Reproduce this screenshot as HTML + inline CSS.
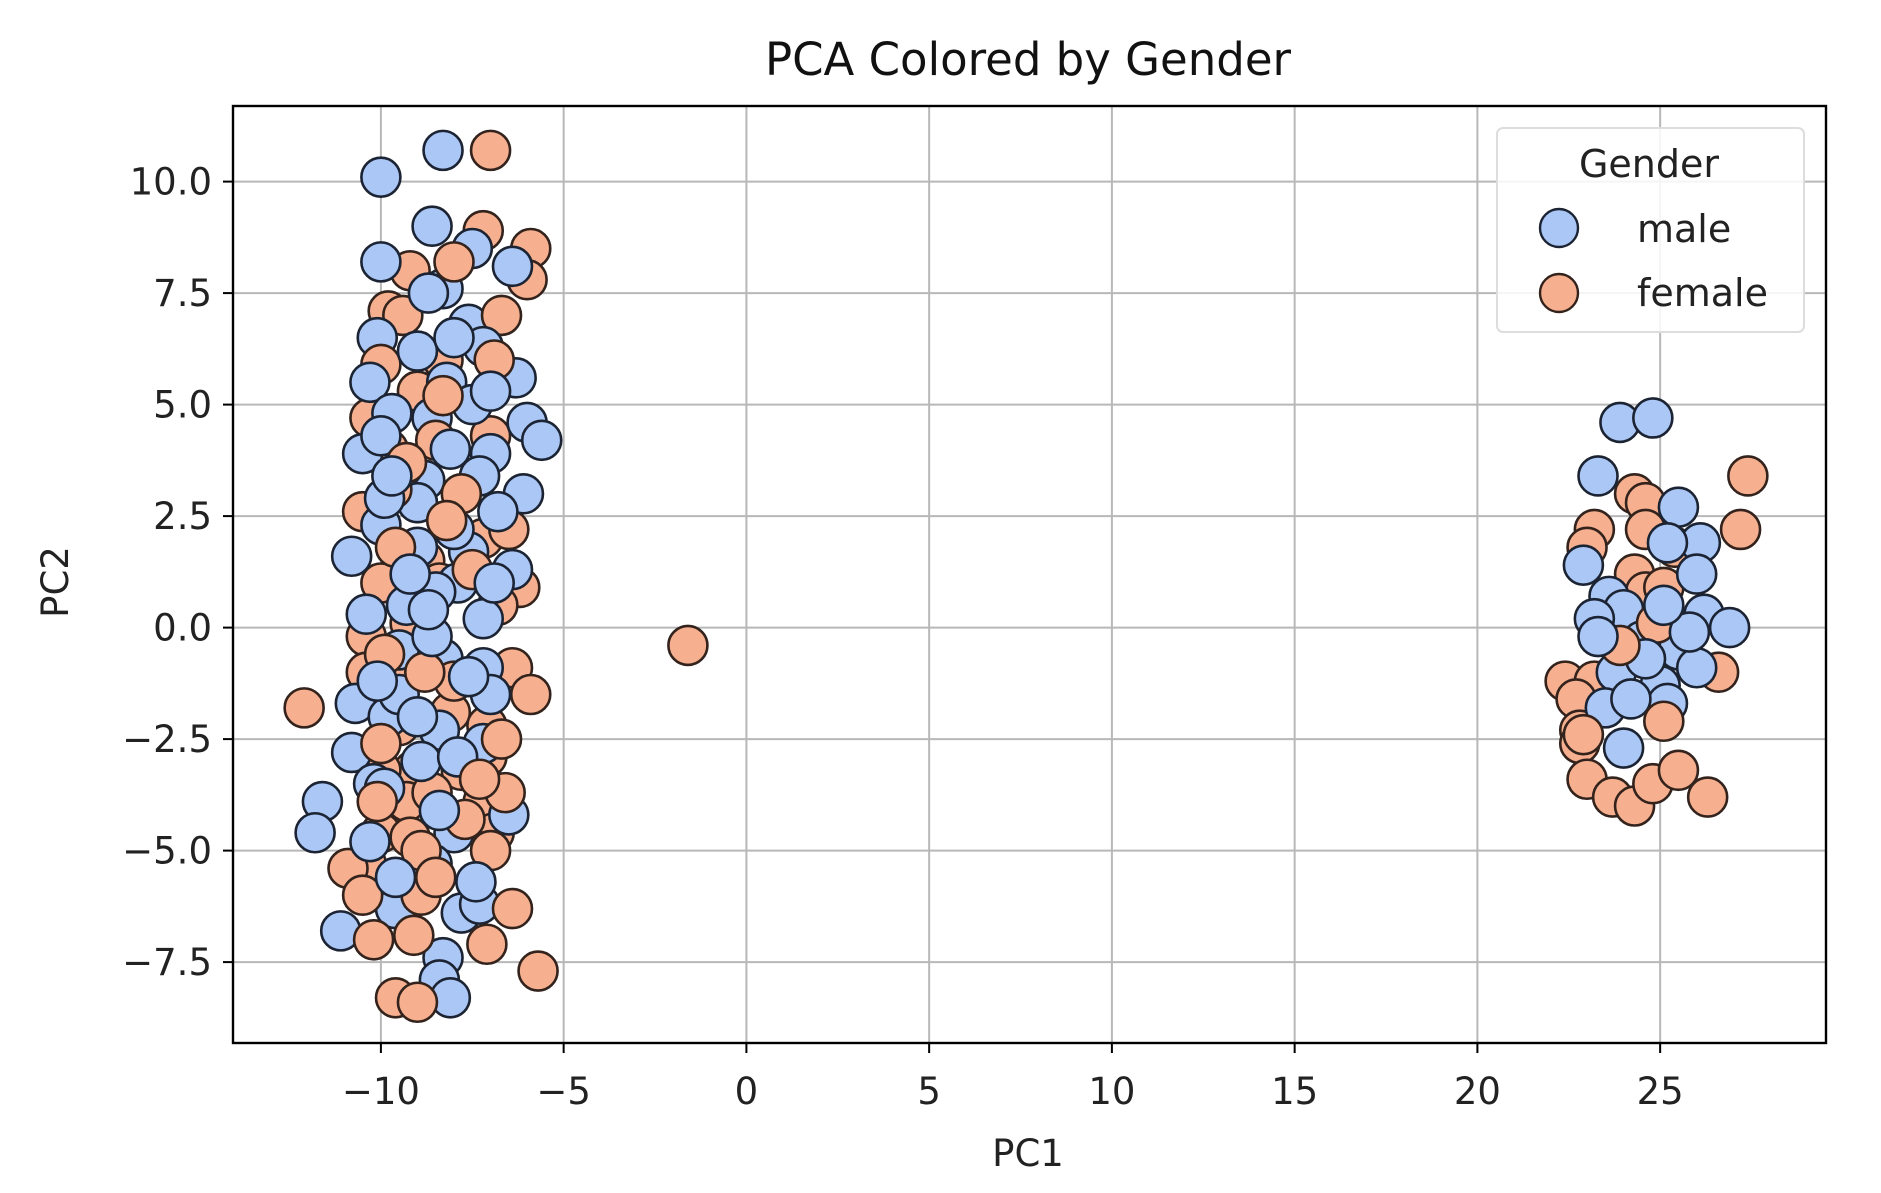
<!DOCTYPE html>
<html><head><meta charset="utf-8"><style>
html,body{margin:0;padding:0;background:#fff;}
svg{display:block;font-family:"DejaVu Sans","Liberation Sans",sans-serif;}
</style></head><body>
<svg id="chart" width="1881" height="1193" viewBox="0 0 1881 1193" xmlns="http://www.w3.org/2000/svg">
<rect width="1881" height="1193" fill="#fff"/>
<g id="grid"></g>
<g id="points"></g>
<rect x="233" y="106" width="1593" height="937" fill="none" stroke="#000" stroke-width="2.4"/>
<g id="ticks"></g>
<text x="1028" y="75" font-size="45" text-anchor="middle" fill="#111">PCA Colored by Gender</text>
<text x="1028" y="1166" font-size="37" text-anchor="middle" fill="#222">PC1</text>
<text transform="translate(68,582) rotate(-90)" font-size="37" text-anchor="middle" fill="#222">PC2</text>
<g>
<rect x="1497" y="128" width="307" height="204" rx="6" fill="#fff" fill-opacity="0.85" stroke="#ddd" stroke-width="2"/>
<text x="1649" y="177" font-size="38" text-anchor="middle" fill="#222">Gender</text>
<circle cx="1559" cy="228" r="19" fill="#aac7f6" stroke="#1c2433" stroke-width="2.4"/>
<text x="1637" y="242" font-size="38" fill="#222">male</text>
<circle cx="1559" cy="293" r="19" fill="#f6b08f" stroke="#33231c" stroke-width="2.4"/>
<text x="1637" y="306" font-size="38" fill="#222">female</text>
</g>
</svg>
<script>
const xTicks=[-10,-5,0,5,10,15,20,25];
const yTicks=[-7.5,-5,-2.5,0,2.5,5,7.5,10];
const maleX=[-8.3,-10,-8.6,-7.5,-10,-6.4,-8.3,-7.6,-10.1,-7.2,-6.3,-8.2,-10.3,-9.7,-8.6,-6.0,-5.6,-10.5,-7.0,-8.8,-7.3,-9.0,-6.1,-10,-9,-7.6,-10.8,-6.4,-7.9,-8.5,-10.4,-7.2,-9.5,-8.3,-7.2,-10.7,-9.8,-8.4,-7.2,-10.8,-10.2,-11.6,-11.8,-8.0,-6.5,-8.6,-9.6,-7.8,-7.3,-11.1,-8.3,-8.4,-8.1,-9.5,-8.9,-10.3,-9.9,-7.0,-9.3,-8.0,-10.0,-7.5,-9.0,-8.7,-6.8,-9.6,
-9.4,-8.1,-7.0,-9.9,-8.6,-7.6,-9.2,-7.9,-10.1,-8.4,-6.9,-9.7,-8.0,-7.4,-9.0,-8.7,
23.9,24.8,23.3,25.5,26.1,22.9,23.6,26.0,24.0,25.2,26.2,26.9,23.2,24.5,25.5,23.8,25.0,23.5,25.2,24.2,24.0,26.0,24.6,25.8,23.3,25.1];
const maleY=[10.7,10.1,9.0,8.5,8.2,8.1,7.6,6.8,6.5,6.3,5.6,5.5,5.5,4.8,4.7,4.6,4.2,3.9,3.9,3.3,3.4,2.8,3.0,2.3,1.8,1.7,1.6,1.3,1.0,0.8,0.3,0.2,-0.5,-0.7,-0.9,-1.7,-2.0,-2.3,-2.6,-2.8,-3.5,-3.9,-4.6,-4.6,-4.2,-5.3,-6.3,-6.4,-6.2,-6.8,-7.4,-7.9,-8.3,-1.5,-3.0,-4.8,-3.6,-1.5,0.5,2.2,4.3,5.0,6.2,7.5,2.6,-5.6,
3.6,4.0,5.3,2.9,-0.2,-1.1,1.2,-2.9,-1.2,-4.1,1.0,3.4,6.5,-5.7,-2.0,0.4,
4.6,4.7,3.4,2.7,1.9,1.4,0.7,1.2,0.4,1.9,0.3,0.0,0.2,-0.3,-0.5,-1.0,-1.3,-1.8,-1.7,-1.6,-2.7,-0.9,-0.7,-0.1,-0.2,0.5];
const femaleX=[-7.0,-7.2,-5.9,-9.2,-6.0,-9.8,-9.4,-6.7,-8.3,-10.0,-9.0,-10.3,-7.0,-9.8,-8.5,-10.5,-9.0,-7.2,-6.5,-8.8,-10.0,-8.4,-6.2,-9.2,-10.4,-6.8,-9.4,-10.4,-6.4,-12.1,-8.1,-5.9,-9.5,-7.1,-9.1,-7.8,-7.1,-10.0,-9.3,-7.2,-8.6,-6.9,-10.0,-9.2,-7.0,-10.4,-10.9,-10.5,-8.9,-6.4,-10.2,-9.1,-7.1,-5.7,-9.6,-9.0,-1.6,-8.0,-10.0,-6.6,-8.9,-7.8,-9.7,-6.9,-8.0,
-8.2,-9.6,-7.5,-8.8,-6.7,-9.9,-7.7,-8.5,-9.3,-7.3,-8.3,-10.1,
27.4,27.2,24.3,24.6,23.2,24.6,25.4,23.0,24.3,24.6,25.1,26.6,24.7,22.4,23.2,22.7,22.8,22.8,23.0,23.7,24.3,24.8,25.5,26.3,25.1,22.9,24.9,23.9];
const femaleY=[10.7,8.9,8.5,8.0,7.8,7.1,7.0,7.0,6.0,5.9,5.3,4.7,4.3,4.0,4.2,2.6,2.8,2.0,2.2,1.5,1.0,1.0,0.9,0.1,-0.2,0.5,-0.9,-1.0,-0.9,-1.8,-1.9,-1.5,-2.2,-2.2,-3.2,-3.2,-2.9,-3.2,-3.9,-3.9,-3.7,-4.6,-4.6,-4.7,-5.0,-5.3,-5.4,-6.0,-6.0,-6.3,-7.0,-6.9,-7.1,-7.7,-8.3,-8.4,-0.4,-1.2,-2.6,-3.7,-5.0,3.0,3.1,6.0,8.2,
2.4,1.8,1.3,-1.0,-2.5,-0.6,-4.3,-5.6,3.7,-3.4,5.2,-3.9,
3.4,2.2,3.0,2.8,2.2,2.2,1.8,1.8,1.2,0.8,0.9,-1.0,-0.7,-1.2,-1.2,-1.6,-2.3,-2.6,-3.4,-3.8,-4.0,-3.5,-3.2,-3.8,-2.1,-2.4,0.1,-0.4];

const X0=746.4, XU=36.55, Y0=627.6, YU=44.6;
function xs(v){return X0+v*XU;}
function ys(v){return Y0-v*YU;}
const NS="http://www.w3.org/2000/svg";
function mk(tag,attrs,parent){const e=document.createElementNS(NS,tag);for(const k in attrs)e.setAttribute(k,attrs[k]);parent.appendChild(e);return e;}
const grid=document.getElementById('grid'),ticks=document.getElementById('ticks'),pts=document.getElementById('points');
function fmt(v,d){return (v<0?'\u2212':'')+Math.abs(v).toFixed(d);}
xTicks.forEach(v=>{
  const x=xs(v);
  const g=mk('line',{x1:x,x2:x,y1:106,y2:1043,stroke:'#b8b8b8','stroke-width':2},grid);
  
  
  const t=mk('line',{x1:x,x2:x,y1:1043,y2:1053,stroke:'#000','stroke-width':2},ticks);
  
  
  const l=mk('text',{x:x,y:1104,'font-size':37,'text-anchor':'middle',fill:'#222'},ticks);
  l.textContent=fmt(v,0);
  
  
});
yTicks.forEach(v=>{
  const y=ys(v);
  const g=mk('line',{x1:233,x2:1826,y1:y,y2:y,stroke:'#b8b8b8','stroke-width':2},grid);
  
  
  const t=mk('line',{x1:223,x2:233,y1:y,y2:y,stroke:'#000','stroke-width':2},ticks);
  
  
  const l=mk('text',{x:212,y:y+13,'font-size':37,'text-anchor':'end',fill:'#222'},ticks);
  l.textContent=fmt(v,1);
  
  
});
const order=[];
const n=Math.max(maleX.length,femaleX.length);
for(let i=0;i<n;i++){if(i<maleX.length)order.push(['m',i]);if(i<femaleX.length)order.push(['f',i]);}
order.forEach(([g,i])=>{
  const m=g==='m';
  const c=mk('circle',{cx:xs(m?maleX[i]:femaleX[i]),cy:ys(m?maleY[i]:femaleY[i]),r:19.5,fill:m?'#aac7f6':'#f6b08f',stroke:m?'#1c2433':'#33231c','stroke-width':2.6},pts);
  
  
});
</script>
</body></html>
